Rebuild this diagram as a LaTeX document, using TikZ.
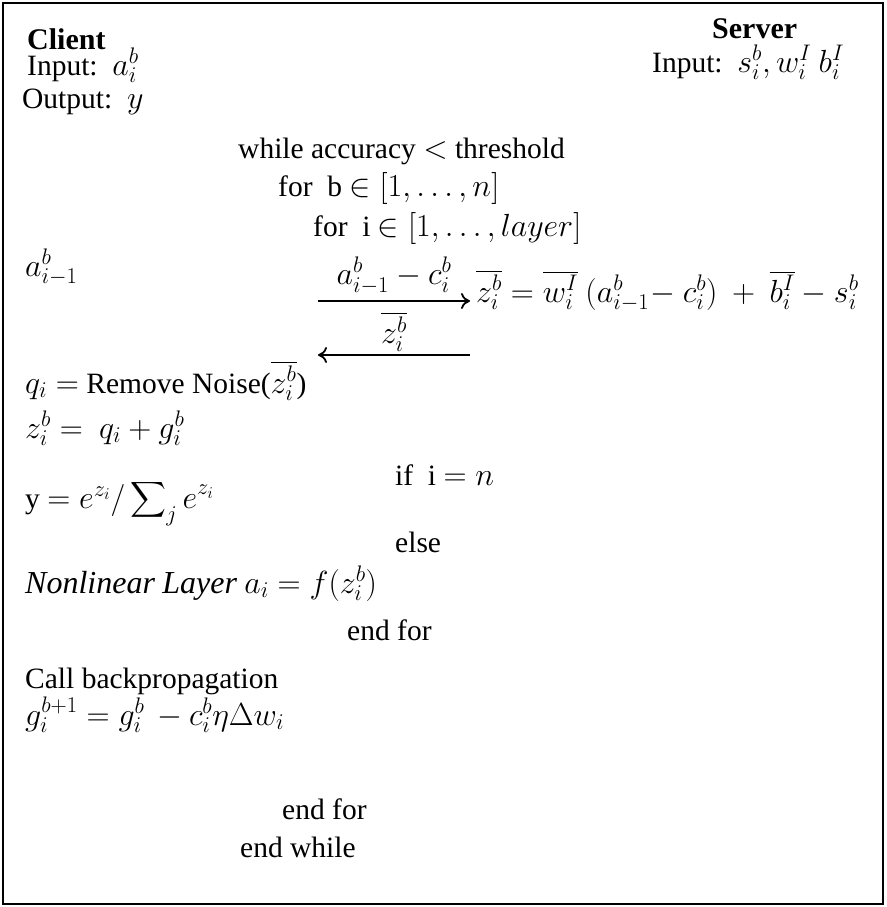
\RequirePackage{fix-cm}
\documentclass[tikz,border=0pt]{standalone}
\usepackage{amsmath}
\usepackage{fontspec}
\setmainfont{Liberation Serif}
\DeclareMathSizes{29.5}{32}{22.5}{16.5}
\DeclareMathSizes{30}{32}{22.5}{16.5}
\usetikzlibrary{positioning,arrows.meta}
\tikzset{
  step text/.style={anchor=base west,inner sep=0pt},
  party title/.style={anchor=base west,inner sep=0pt,font=\fontsize{30}{36}\selectfont\bfseries},
  msg arrow/.style={-{To[length=9pt,width=16pt]},line width=1.8pt},
  msg label/.style={inner sep=3pt}
}

\begin{document}
\begin{tikzpicture}[x=1pt,y=1pt,font=\fontsize{29.5}{35}\selectfont]
    \useasboundingbox (0,0) rectangle (886,-907);
    \draw[line width=2.2pt] (3,-3) rectangle (883,-904);
    % header
    \node[party title] (client) at (27,-50) {Client};
    \node[party title] (server) at (712,-38) {Server};
    \node[step text] (cin) at (27,-75) {Input:\ \ $a_i^b$};
    \node[step text] (sin) at (652,-72) {Input:\ \ $s_i^b, w_i^I\ b_i^I$};
    \node[step text] (cout) at (22,-108) {Output:\ \ $y$};
    % loops
    \node[step text] (while) at (238,-158) {while accuracy $<$ threshold};
    \node[step text] (forb) at (278,-196) {for\ \ b $\in [1, \ldots, n]$};
    \node[step text] (fori) at (313,-236) {for\ \ i $\in [1, \ldots, layer]$};
    % exchange
    \node[step text] (prev) at (25,-276) {$a_{i-1}^b$};
    \coordinate (sendL) at (318,-301);
    \coordinate (sendR) at (470,-301);
    \coordinate (backL) at (318,-355);
    \coordinate (backR) at (470,-355);
    \draw[msg arrow] (sendL) -- (sendR)
      node[midway,above,msg label,inner sep=6pt] (masked) {$a_{i-1}^b - c_i^b$};
    \draw[msg arrow] (backR) -- (backL)
      node[midway,above,msg label] (noisy) {$\overline{z_i^b}$};
    \node[step text] (srv) at (476,-302)
      {$\overline{z_i^b} = \overline{w_i^I}\ (a_{i-1}^b\!- c_i^b)\ +\ \overline{b_i^I} - s_i^b$};
    % client side
    \node[step text] (denoise) at (25,-393) {$q_i =$ Remove Noise($\overline{z_i^b}$)};
    \node[step text] (zsum) at (25,-438) {$z_i^b =\ q_i + g_i^b$};
    \node[step text] (ifn) at (395,-485) {if\ \ i $= n$};
    \node[step text] (soft) at (25,-508) {y $= e^{z_i}/\displaystyle\sum\nolimits_j e^{z_i}$};
    \node[step text] (else) at (395,-552) {else};
    \node[step text] (nonlin) at (25,-593) {$\mathit{Nonlinear}\ \mathit{Layer}\ a_i = f(z_i^b)$};
    \node[step text] (endfori) at (347,-640) {end for};
    \node[step text] (backprop) at (25,-688) {Call backpropagation};
    \node[step text] (update) at (25,-725) {$g_i^{b+1} = g_i^b\, - c_i^b \eta \Delta w_i$};
    \node[step text] (endforb) at (282,-819) {end for};
    \node[step text] (endwhile) at (240,-857) {end while};
\end{tikzpicture}
\end{document}
